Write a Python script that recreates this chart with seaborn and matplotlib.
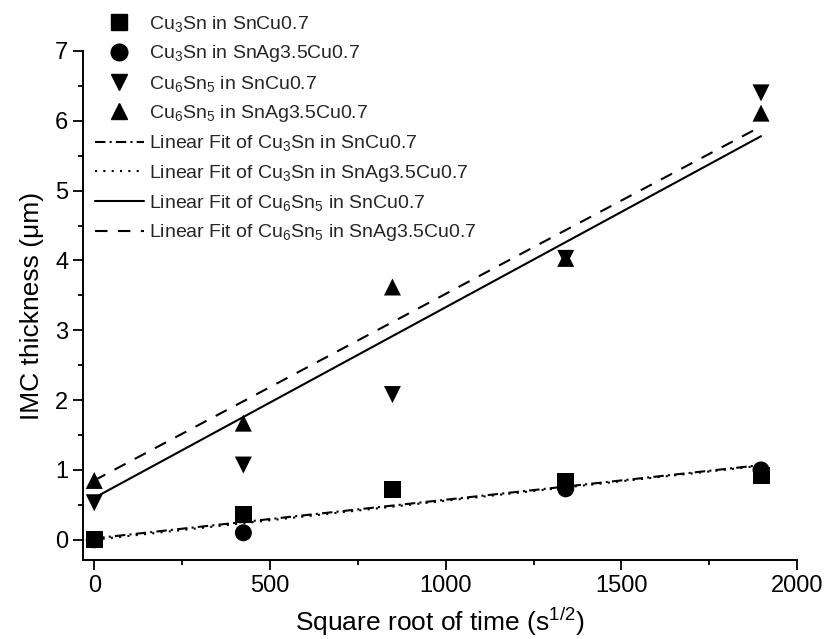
import pandas as pd
import matplotlib
matplotlib.use("Agg")
import matplotlib.pyplot as plt
from matplotlib.lines import Line2D
from matplotlib.ticker import MultipleLocator
import seaborn as sns

# square root of ageing time (s^1/2)
x_sqrt_time = [0, 424.3, 848.5, 1341.6, 1897.4]

# measured IMC thickness (um)
cu3sn_sncu = [0.0, 0.36, 0.72, 0.83, 0.92]
cu3sn_snagcu = [0.0, 0.10, 0.72, 0.73, 1.00]
cu6sn5_sncu = [0.53, 1.07, 2.08, 4.03, 6.40]
cu6sn5_snagcu = [0.85, 1.67, 3.62, 4.03, 6.11]

series_labels = [
    r"Cu$_3$Sn in SnCu0.7",
    r"Cu$_3$Sn in SnAg3.5Cu0.7",
    r"Cu$_6$Sn$_5$ in SnCu0.7",
    r"Cu$_6$Sn$_5$ in SnAg3.5Cu0.7",
]
series_values = [cu3sn_sncu, cu3sn_snagcu, cu6sn5_sncu, cu6sn5_snagcu]

# linear fit lines, value at first and last x
fit_labels = ["Linear Fit of " + s for s in series_labels]
fit_start = [0.02, 0.0, 0.60, 0.85]
fit_end = [1.07, 1.06, 5.78, 5.92]

marker_map = dict(zip(series_labels, ["s", "o", "v", "^"]))
dash_map = dict(zip(fit_labels, [(5, 2, 1, 2), (1, 3), "", (6, 5)]))

# build long tables for seaborn
points = pd.DataFrame(
    [(x, y, lab) for lab, ys in zip(series_labels, series_values) for x, y in zip(x_sqrt_time, ys)],
    columns=["x", "y", "series"],
)
fits = pd.DataFrame(
    [(x, y, lab) for lab, y0, y1 in zip(fit_labels, fit_start, fit_end)
     for x, y in [(x_sqrt_time[0], y0), (x_sqrt_time[-1], y1)]],
    columns=["x", "y", "fit"],
)

sns.set_theme(style="ticks")
plt.rcParams["font.family"] = ["Liberation Sans", "DejaVu Sans"]
plt.rcParams["mathtext.fontset"] = "custom"
plt.rcParams["mathtext.rm"] = "Liberation Sans"
plt.rcParams["mathtext.it"] = "Liberation Sans:italic"

fig = plt.figure(figsize=(8.26, 6.39), dpi=100)
ax = fig.add_axes([0.1005, 0.1236, 0.8645, 0.7966])

sns.lineplot(data=fits, x="x", y="y", style="fit", dashes=dash_map, color="black",
             linewidth=1.5, legend=False, errorbar=None, sort=False, ax=ax)
sns.scatterplot(data=points, x="x", y="y", style="series", markers=marker_map,
                color="black", s=150, linewidth=0, legend=False, ax=ax, zorder=3)

ax.set_xlim(-32, 2000)
ax.set_ylim(-0.29, 7)
ax.xaxis.set_major_locator(MultipleLocator(500))
ax.xaxis.set_minor_locator(MultipleLocator(250))
ax.yaxis.set_major_locator(MultipleLocator(1))
ax.yaxis.set_minor_locator(MultipleLocator(0.5))
ax.tick_params(which="major", length=7, width=1.3, labelsize=17, color="black", labelcolor="black")
ax.tick_params(which="minor", length=3.5, width=1.3, color="black")
sns.despine(ax=ax)
for sp in ["left", "bottom"]:
    ax.spines[sp].set_linewidth(1.4)
    ax.spines[sp].set_color("black")

ax.set_xlabel(r"Square root of time (s$^{1/2}$)", fontsize=19, color="black", labelpad=7)
ax.set_ylabel("IMC thickness (μm)", fontsize=19, color="black", labelpad=8)

handles = [Line2D([], [], ls="none", marker=marker_map[l], color="black", markersize=12)
           for l in series_labels]
for l in fit_labels:
    d = dash_map[l]
    h = Line2D([], [], color="black", lw=1.5)
    if d:
        h.set_dashes(d)
    handles.append(h)

fig.legend(handles, series_labels + fit_labels, loc="upper left",
           bbox_to_anchor=(95 / 826, 1 - 14 / 639), frameon=False, fontsize=14,
           borderpad=0, borderaxespad=0, handlelength=2.5, handletextpad=0.3,
           labelspacing=0.48)

fig.savefig("out.png", dpi=100)
